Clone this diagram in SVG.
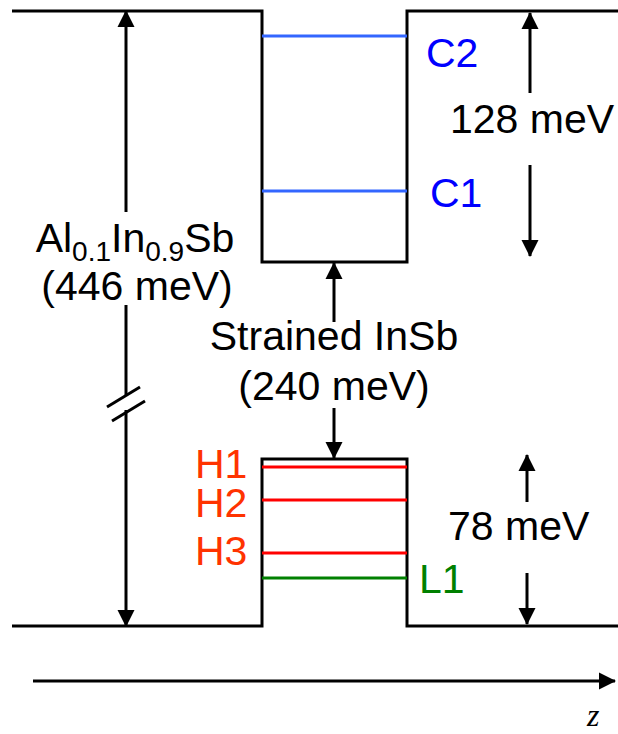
<svg xmlns="http://www.w3.org/2000/svg" width="618" height="734" viewBox="0 0 618 734">
<style>
.bk{fill:none;stroke:#000;stroke-width:3;stroke-linejoin:miter}
.ar{fill:none;stroke:#000;stroke-width:3;marker-end:url(#ah)}
.t{font-family:"Liberation Sans",Arial,sans-serif;font-size:41px;fill:#000}
.c{fill:#0000ff}
.h{fill:#ff3300}
.g{fill:#008000}
.lc{stroke:#3366ff;stroke-width:3}
.lh{stroke:#ff0000;stroke-width:3}
.lg{stroke:#008000;stroke-width:3}
</style>
<defs>
<marker id="ah" markerUnits="userSpaceOnUse" markerWidth="18" markerHeight="18" refX="16" refY="8.5" orient="auto" viewBox="0 0 18 17">
<path d="M0,0 L17,8.5 L0,17 z" fill="#000"/>
</marker>
</defs>
<g id="conduction-band">
<polyline class="bk" points="12,11 262,11 262,262 407,262 407,11 618,11"/>
</g>
<g id="valence-band">
<polyline class="bk" points="12,626 262,626 262,459 407,459 407,626 618,626"/>
</g>
<g id="C2"><line class="lc" x1="262" y1="36" x2="407" y2="36"/><text class="t c" x="426" y="67">C2</text></g>
<g id="C1"><line class="lc" x1="262" y1="191" x2="407" y2="191"/><text class="t c" x="430" y="207">C1</text></g>
<g id="H1"><line class="lh" x1="262" y1="467" x2="407" y2="467"/><text class="t h" x="195" y="478" font-size="39">H1</text></g>
<g id="H2"><line class="lh" x1="262" y1="500" x2="407" y2="500"/><text class="t h" x="195" y="517" font-size="39">H2</text></g>
<g id="H3"><line class="lh" x1="262" y1="553" x2="407" y2="553"/><text class="t h" x="195" y="565" font-size="39">H3</text></g>
<g id="L1"><line class="lg" x1="262" y1="578" x2="407" y2="578"/><text class="t g" x="419" y="593">L1</text></g>
<g id="barrier-label">
<text class="t" x="135" y="252" text-anchor="middle">Al<tspan font-size="28" dy="9">0.1</tspan><tspan dy="-9">In</tspan><tspan font-size="28" dy="9">0.9</tspan><tspan dy="-9">Sb</tspan></text>
<text class="t" x="137" y="300" text-anchor="middle">(446 meV)</text>
</g>
<g id="well-label">
<text class="t" x="334" y="350" text-anchor="middle">Strained InSb</text>
<text class="t" x="334" y="400" text-anchor="middle">(240 meV)</text>
</g>
<g id="c-split-label"><text class="t" x="450" y="133">128 meV</text></g>
<g id="v-split-label"><text class="t" x="448" y="540">78 meV</text></g>
<g id="z-label"><text x="587" y="726" font-family="'Liberation Serif','Times New Roman',serif" font-style="italic" font-size="32">z</text></g>
<g id="connectors">
<line class="ar" x1="126" y1="212" x2="126" y2="11"/>
<line class="bk" x1="126" y1="305" x2="126" y2="396"/>
<line class="ar" x1="126" y1="410" x2="126" y2="626"/>
<line class="bk" x1="107" y1="407" x2="140" y2="387"/>
<line class="bk" x1="112" y1="421" x2="145" y2="401"/>
<line class="ar" x1="530" y1="93" x2="530" y2="13"/>
<line class="ar" x1="530" y1="165" x2="530" y2="256"/>
<line class="ar" x1="334" y1="322" x2="334" y2="263"/>
<line class="ar" x1="334" y1="408" x2="334" y2="458"/>
<line class="ar" x1="527" y1="502" x2="527" y2="455"/>
<line class="ar" x1="527" y1="573" x2="527" y2="624"/>
<line class="ar" x1="33" y1="681" x2="615" y2="681"/>
</g>
</svg>
